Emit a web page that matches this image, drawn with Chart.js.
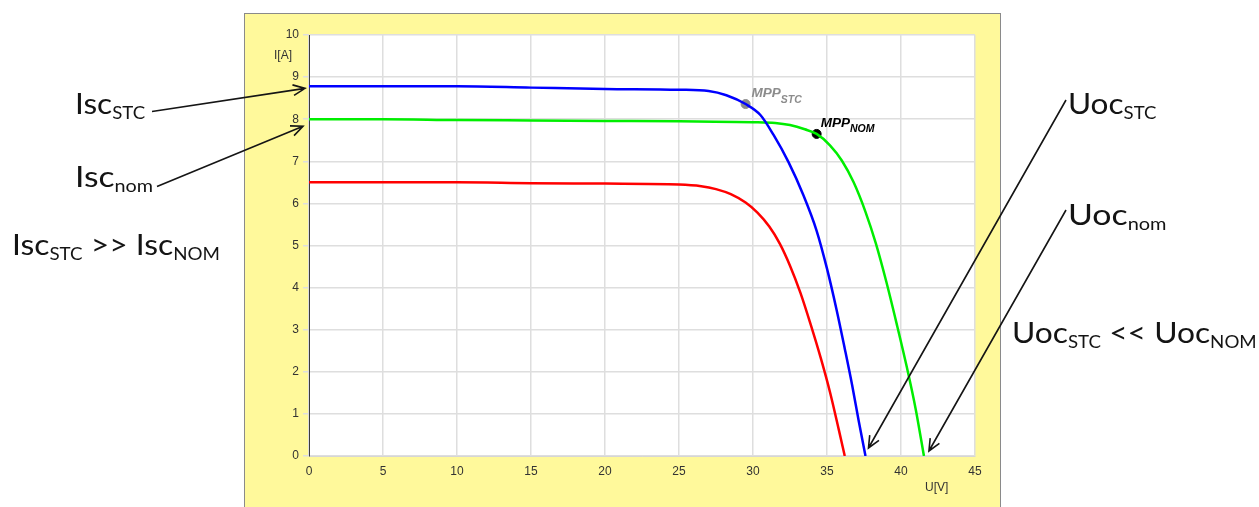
<!DOCTYPE html>
<html>
<head>
<meta charset="utf-8">
<script src="https://cdn.jsdelivr.net/npm/chart.js@4.4.0/dist/chart.umd.min.js"></script>
<style>
  html, body { margin: 0; padding: 0; background: #fff; }
  #wrap { position: relative; width: 1259px; height: 507px; overflow: hidden; }
  #chart { position: absolute; left: 0; top: 0; }
  .note { position: absolute; left: 0; top: 0; font-family: Lato, "Open Sans", sans-serif; font-size: 28px;
          line-height: 34px; color: #141414; white-space: nowrap; transform-origin: 0 0; }
  .note .sub { font-size: 16.5px; position: relative; top: 5px; }
  .note .mark { display: inline-block; width: 0; height: 0; vertical-align: baseline; }
</style>
</head>
<body>
<div id="wrap">
  <canvas id="chart" width="1259" height="507"></canvas>
  <div class="note" id="iscStc"><span class="mark"></span>Isc<span class="sub">STC</span></div>
  <div class="note" id="iscNom"><span class="mark"></span>Isc<span class="sub">nom</span></div>
  <div class="note" id="iscCmp"><span class="mark"></span>Isc<span class="sub">STC</span> &gt;&gt; Isc<span class="sub">NOM</span></div>
  <div class="note" id="uocStc"><span class="mark"></span>Uoc<span class="sub">STC</span></div>
  <div class="note" id="uocNom"><span class="mark"></span>Uoc<span class="sub">nom</span></div>
  <div class="note" id="uocCmp"><span class="mark"></span>Uoc<span class="sub">STC</span> &lt;&lt; Uoc<span class="sub">NOM</span></div>
</div>
<script>
// I-U curves (U in V, I in A)
const uStc = [0, 5, 10, 15, 20, 25, 27, 28.2, 29.5, 30.5, 31.4, 32.4, 33.4, 34.3, 35.0, 35.65, 36.2, 36.7, 37.15, 37.6];
const iStc = [8.78, 8.78, 8.78, 8.75, 8.72, 8.70, 8.67, 8.57, 8.36, 8.10, 7.62, 6.98, 6.20, 5.35, 4.45, 3.47, 2.55, 1.68, 0.82, 0];

const uNom = [0, 5, 10, 15, 20, 25, 30, 31.5, 32.5, 33.5, 34.3, 35.2, 36.0, 36.8, 37.6, 38.3, 39.0, 39.7, 40.4, 41.0, 41.55];
const iNom = [8.00, 8.00, 7.98, 7.97, 7.96, 7.95, 7.93, 7.91, 7.86, 7.76, 7.65, 7.38, 7.02, 6.50, 5.80, 5.05, 4.15, 3.15, 2.10, 1.10, 0];

const uLow = [0, 5, 10, 15, 20, 25, 26.5, 27.5, 28.5, 29.5, 30.3, 31.1, 31.8, 32.5, 33.2, 33.9, 34.6, 35.2, 35.8, 36.2];
const iLow = [6.50, 6.50, 6.50, 6.48, 6.47, 6.45, 6.41, 6.34, 6.22, 6.02, 5.78, 5.45, 5.05, 4.52, 3.88, 3.12, 2.30, 1.52, 0.62, 0];

const mppStc = [29.5, 8.36];
const mppNom = [34.3, 7.65];

const xTicks = [0, 5, 10, 15, 20, 25, 30, 35, 40, 45];
const yTicks = [0, 1, 2, 3, 4, 5, 6, 7, 8, 9, 10];

const toPoints = (us, is) => us.map((u, k) => ({ x: u, y: is[k] }));

// text notes outside the chart: left edge, baseline, target width
const notes = [
  { id: 'iscStc', x: 75, base: 113.5, w: 70 },
  { id: 'iscNom', x: 75, base: 186.5, w: 78 },
  { id: 'iscCmp', x: 11.5, base: 254.5, w: 208 },
  { id: 'uocStc', x: 1068, base: 113.5, w: 89 },
  { id: 'uocNom', x: 1068, base: 225, w: 98 },
  { id: 'uocCmp', x: 1011.5, base: 343, w: 245 }
];
notes.forEach(n => {
  const el = document.getElementById(n.id);
  const mark = el.querySelector('.mark');
  const sx = n.w / el.offsetWidth;
  el.style.transform = `scaleX(${sx})`;
  el.style.left = n.x + 'px';
  el.style.top = (n.base - mark.offsetTop) + 'px';
});

function arrow(ctx, x1, y1, x2, y2) {
  const a = Math.atan2(y2 - y1, x2 - x1), len = 13, spread = 0.42;
  ctx.beginPath();
  ctx.moveTo(x1, y1);
  ctx.lineTo(x2, y2);
  ctx.moveTo(x2 - len * Math.cos(a - spread), y2 - len * Math.sin(a - spread));
  ctx.lineTo(x2, y2);
  ctx.lineTo(x2 - len * Math.cos(a + spread), y2 - len * Math.sin(a + spread));
  ctx.stroke();
}

const panel = {
  id: 'panel',
  beforeDraw(chart) {
    const ctx = chart.ctx, a = chart.chartArea;
    ctx.save();
    ctx.fillStyle = '#fff99b';
    ctx.fillRect(244, 13, 757, 520);
    ctx.strokeStyle = '#8a8a8a';
    ctx.lineWidth = 1;
    ctx.strokeRect(244.5, 13.5, 756, 520);
    ctx.fillStyle = '#fff';
    ctx.fillRect(a.left, a.top, a.right - a.left, a.bottom - a.top);
    ctx.restore();
  },
  afterDraw(chart) {
    const ctx = chart.ctx, a = chart.chartArea;
    const xs = chart.scales.x, ys = chart.scales.y;
    ctx.save();

    // axis titles
    ctx.fillStyle = '#333';
    ctx.font = '12px "Liberation Sans", Arial, sans-serif';
    ctx.textAlign = 'right';
    ctx.textBaseline = 'alphabetic';
    ctx.fillText('I[A]', a.left - 17, a.top + 24);
    ctx.textAlign = 'left';
    ctx.fillText('U[V]', a.right - 50, a.bottom + 35);

    // MPP labels
    const label = (pt, sub, color, dx) => {
      const px = xs.getPixelForValue(pt[0]), py = ys.getPixelForValue(pt[1]);
      ctx.fillStyle = color;
      ctx.textAlign = 'left';
      ctx.font = 'italic bold 13.5px "Liberation Sans", Arial, sans-serif';
      ctx.fillText('MPP', px + dx, py - 7);
      const w = ctx.measureText('MPP').width;
      ctx.font = 'italic bold 10.5px "Liberation Sans", Arial, sans-serif';
      ctx.fillText(sub, px + dx + w, py - 1.5);
    };
    label(mppStc, 'STC', '#8c8c8c', 6);
    label(mppNom, 'NOM', '#000', 4);

    // arrows from the notes to the curve ends
    ctx.strokeStyle = '#151515';
    ctx.lineWidth = 1.6;
    const x0 = xs.getPixelForValue(0), y0 = ys.getPixelForValue(0);
    arrow(ctx, 152, 111.5, x0 - 4, ys.getPixelForValue(iStc[0]) + 2);
    arrow(ctx, 157, 186.5, x0 - 6, ys.getPixelForValue(iNom[0]) + 7);
    arrow(ctx, 1066, 100, xs.getPixelForValue(uStc[uStc.length - 1]) + 3, y0 - 8);
    arrow(ctx, 1066, 210, xs.getPixelForValue(uNom[uNom.length - 1]) + 5, y0 - 5);
    ctx.restore();
  }
};

const curve = (data, color) => ({
  data, borderColor: color, backgroundColor: color, borderWidth: 2.5,
  showLine: true, pointRadius: 0, cubicInterpolationMode: 'monotone'
});
const dot = (pt, color) => ({
  data: [{ x: pt[0], y: pt[1] }], backgroundColor: color, borderColor: color,
  pointRadius: 4.5, showLine: false
});

const tickFont = { family: '"Liberation Sans", Arial, sans-serif', size: 12 };

new Chart(document.getElementById('chart'), {
  type: 'scatter',
  data: {
    datasets: [
      curve(toPoints(uLow, iLow), '#ff0000'),
      curve(toPoints(uStc, iStc), '#0000ff'),
      curve(toPoints(uNom, iNom), '#00ee00'),
      dot(mppStc, '#8c8c8c'),
      dot(mppNom, '#000')
    ]
  },
  options: {
    responsive: false,
    animation: false,
    layout: { padding: { left: 249, top: 35, right: 284, bottom: 11 } },
    plugins: { legend: { display: false }, tooltip: { enabled: false } },
    scales: {
      x: {
        type: 'linear',
        min: xTicks[0], max: xTicks[xTicks.length - 1],
        afterFit: s => { s.height = 40; },
        ticks: { stepSize: xTicks[1] - xTicks[0], padding: 8, color: '#333', font: tickFont },
        grid: { color: '#dedede', lineWidth: 1.5, drawTicks: false },
        border: { color: '#d6d6d6', width: 1 }
      },
      y: {
        type: 'linear',
        min: yTicks[0], max: yTicks[yTicks.length - 1],
        afterFit: s => { s.width = 60; },
        ticks: { stepSize: yTicks[1] - yTicks[0], padding: 4, color: '#333', font: tickFont },
        grid: { color: '#dedede', lineWidth: 1.5, tickLength: 6 },
        border: { color: '#3c3c3c', width: 1 }
      }
    }
  },
  plugins: [panel]
});
</script>
</body>
</html>
